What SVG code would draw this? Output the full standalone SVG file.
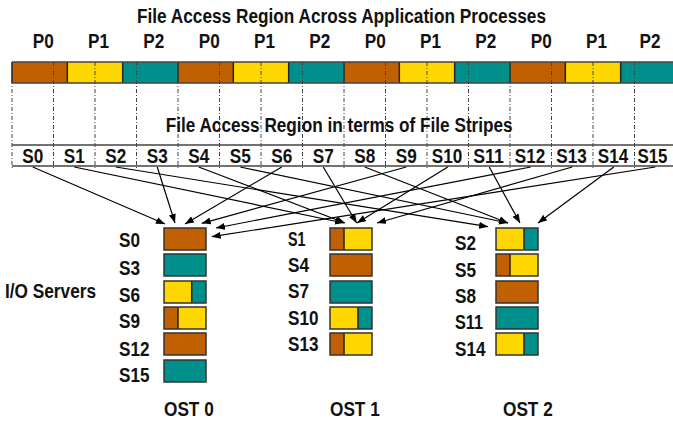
<svg xmlns="http://www.w3.org/2000/svg" width="673" height="426" viewBox="0 0 673 426">
<style>
text{font-family:"Liberation Sans",Arial,sans-serif;font-weight:bold;font-size:20px;fill:#111}
.m{text-anchor:middle}
.o{fill:#C06000}.y{fill:#FFD700}.t{fill:#00908C}
.box{fill:none;stroke:#333;stroke-width:1.5}
.sep{stroke:#222;stroke-width:1.5}
.dash{stroke:#444;stroke-width:1;stroke-dasharray:4,2,1,2;fill:none}
.rowline{stroke:#444;stroke-width:1.6}
.arr{stroke:#000;stroke-width:1.2;fill:none;marker-end:url(#ah)}
</style>
<defs>
<marker id="ah" markerUnits="userSpaceOnUse" markerWidth="9" markerHeight="7" refX="9" refY="3.5" orient="auto">
<path d="M0,0 L9,3.5 L0,7 z" fill="#000"/>
</marker>
</defs>

<g id="title-processes">
<text class="m" x="341.5" y="23" textLength="409" lengthAdjust="spacingAndGlyphs">File Access Region Across Application Processes</text>
</g>

<g id="process-labels">
<text class="m" x="43.2" y="48" textLength="21" lengthAdjust="spacingAndGlyphs">P0</text>
<text class="m" x="98.5" y="48" textLength="21" lengthAdjust="spacingAndGlyphs">P1</text>
<text class="m" x="153.8" y="48" textLength="21" lengthAdjust="spacingAndGlyphs">P2</text>
<text class="m" x="209.2" y="48" textLength="21" lengthAdjust="spacingAndGlyphs">P0</text>
<text class="m" x="264.5" y="48" textLength="21" lengthAdjust="spacingAndGlyphs">P1</text>
<text class="m" x="319.8" y="48" textLength="21" lengthAdjust="spacingAndGlyphs">P2</text>
<text class="m" x="375.2" y="48" textLength="21" lengthAdjust="spacingAndGlyphs">P0</text>
<text class="m" x="430.5" y="48" textLength="21" lengthAdjust="spacingAndGlyphs">P1</text>
<text class="m" x="485.8" y="48" textLength="21" lengthAdjust="spacingAndGlyphs">P2</text>
<text class="m" x="541.2" y="48" textLength="21" lengthAdjust="spacingAndGlyphs">P0</text>
<text class="m" x="596.5" y="48" textLength="21" lengthAdjust="spacingAndGlyphs">P1</text>
<text class="m" x="650" y="48" textLength="21" lengthAdjust="spacingAndGlyphs">P2</text>
</g>

<g id="process-bar">
<rect class="o" x="12" y="62" width="55.33" height="21"/>
<rect class="y" x="67.33" y="62" width="55.33" height="21"/>
<rect class="t" x="122.67" y="62" width="55.33" height="21"/>
<rect class="o" x="178" y="62" width="55.33" height="21"/>
<rect class="y" x="233.33" y="62" width="55.33" height="21"/>
<rect class="t" x="288.67" y="62" width="55.33" height="21"/>
<rect class="o" x="344" y="62" width="55.33" height="21"/>
<rect class="y" x="399.33" y="62" width="55.33" height="21"/>
<rect class="t" x="454.67" y="62" width="55.33" height="21"/>
<rect class="o" x="510" y="62" width="55.33" height="21"/>
<rect class="y" x="565.33" y="62" width="55.33" height="21"/>
<rect class="t" x="620.67" y="62" width="55.33" height="21"/>
<path class="sep" d="M12,62V83 M67.33,62V83 M122.67,62V83 M178,62V83 M233.33,62V83 M288.67,62V83 M344,62V83 M399.33,62V83 M454.67,62V83 M510,62V83 M565.33,62V83 M620.67,62V83"/>
<path class="rowline" d="M12,62H673 M12,83H673"/>
</g>

<g id="stripe-boundaries">
<path class="dash" d="M12,62V169 M53.5,62V169 M95,62V169 M136.5,62V169 M178,62V169 M219.5,62V169 M261,62V169 M302.5,62V169 M344,62V169 M385.5,62V169 M427,62V169 M468.5,62V169 M510,62V169 M551.5,62V169 M593,62V169 M634.5,62V169"/>
</g>

<g id="title-stripes">
<text x="165.7" y="131.5" textLength="347" lengthAdjust="spacingAndGlyphs">File Access Region in terms of File Stripes</text>
</g>

<g id="stripe-row">
<path class="rowline" d="M12,145H673 M12,166H673"/>
<text class="m" x="32.75" y="163" textLength="21" lengthAdjust="spacingAndGlyphs">S0</text>
<text class="m" x="74.25" y="163" textLength="21" lengthAdjust="spacingAndGlyphs">S1</text>
<text class="m" x="115.75" y="163" textLength="21" lengthAdjust="spacingAndGlyphs">S2</text>
<text class="m" x="157.25" y="163" textLength="21" lengthAdjust="spacingAndGlyphs">S3</text>
<text class="m" x="198.75" y="163" textLength="21" lengthAdjust="spacingAndGlyphs">S4</text>
<text class="m" x="240.25" y="163" textLength="21" lengthAdjust="spacingAndGlyphs">S5</text>
<text class="m" x="281.75" y="163" textLength="21" lengthAdjust="spacingAndGlyphs">S6</text>
<text class="m" x="323.25" y="163" textLength="21" lengthAdjust="spacingAndGlyphs">S7</text>
<text class="m" x="364.75" y="163" textLength="21" lengthAdjust="spacingAndGlyphs">S8</text>
<text class="m" x="406.25" y="163" textLength="21" lengthAdjust="spacingAndGlyphs">S9</text>
<text class="m" x="447" y="163" textLength="30.5" lengthAdjust="spacingAndGlyphs">S10</text>
<text class="m" x="488.5" y="163" textLength="30.5" lengthAdjust="spacingAndGlyphs">S11</text>
<text class="m" x="530" y="163" textLength="30.5" lengthAdjust="spacingAndGlyphs">S12</text>
<text class="m" x="571.5" y="163" textLength="30.5" lengthAdjust="spacingAndGlyphs">S13</text>
<text class="m" x="613" y="163" textLength="30.5" lengthAdjust="spacingAndGlyphs">S14</text>
<text class="m" x="652.5" y="163" textLength="30" lengthAdjust="spacingAndGlyphs">S15</text>
</g>

<g id="connectors">
<line class="arr" x1="32.75" y1="167" x2="165" y2="224"/>
<line class="arr" x1="157.25" y1="167" x2="175" y2="223"/>
<line class="arr" x1="281.75" y1="167" x2="185" y2="224"/>
<line class="arr" x1="406.25" y1="167" x2="201.7" y2="223.3"/>
<line class="arr" x1="530.75" y1="167" x2="216" y2="228"/>
<line class="arr" x1="655.25" y1="167" x2="211.7" y2="236.7"/>
<line class="arr" x1="74.25" y1="167" x2="344" y2="223"/>
<line class="arr" x1="198.75" y1="167" x2="345" y2="223"/>
<line class="arr" x1="323.25" y1="167" x2="356.7" y2="223"/>
<line class="arr" x1="447.75" y1="167" x2="357" y2="223"/>
<line class="arr" x1="572.25" y1="167" x2="377" y2="223"/>
<line class="arr" x1="115.75" y1="167" x2="488" y2="226.7"/>
<line class="arr" x1="240.25" y1="167" x2="508" y2="223"/>
<line class="arr" x1="364.75" y1="167" x2="508" y2="223"/>
<line class="arr" x1="489.25" y1="167" x2="520" y2="223"/>
<line class="arr" x1="613.75" y1="167" x2="538" y2="223"/>
</g>

<g id="io-servers-label">
<text x="5" y="298" textLength="91" lengthAdjust="spacingAndGlyphs">I/O Servers</text>
</g>

<g id="ost0">
<text x="119" y="247" textLength="21" lengthAdjust="spacingAndGlyphs">S0</text>
<text x="119" y="275" textLength="21" lengthAdjust="spacingAndGlyphs">S3</text>
<text x="119" y="302" textLength="21" lengthAdjust="spacingAndGlyphs">S6</text>
<text x="119" y="328" textLength="21" lengthAdjust="spacingAndGlyphs">S9</text>
<text x="119" y="356" textLength="30.5" lengthAdjust="spacingAndGlyphs">S12</text>
<text x="119" y="382" textLength="30.5" lengthAdjust="spacingAndGlyphs">S15</text>
<rect class="o" x="164" y="228" width="42" height="22"/>
<rect class="t" x="164" y="254" width="42" height="22"/>
<rect class="y" x="164" y="281" width="27.7" height="22"/><rect class="t" x="191.7" y="281" width="14.3" height="22"/>
<rect class="o" x="164" y="307" width="14" height="22"/><rect class="y" x="178" y="307" width="28" height="22"/>
<rect class="o" x="164" y="333" width="42" height="22"/>
<rect class="t" x="164" y="360" width="42" height="22"/>
<path class="sep" d="M191.7,281V303 M178,307V329"/>
<rect class="box" x="164" y="228" width="42" height="22"/>
<rect class="box" x="164" y="254" width="42" height="22"/>
<rect class="box" x="164" y="281" width="42" height="22"/>
<rect class="box" x="164" y="307" width="42" height="22"/>
<rect class="box" x="164" y="333" width="42" height="22"/>
<rect class="box" x="164" y="360" width="42" height="22"/>
<text x="164" y="416" textLength="49.7" lengthAdjust="spacingAndGlyphs">OST 0</text>
</g>

<g id="ost1">
<text x="288" y="246" textLength="17.5" lengthAdjust="spacingAndGlyphs">S1</text>
<text x="288" y="272" textLength="21" lengthAdjust="spacingAndGlyphs">S4</text>
<text x="288" y="298" textLength="21" lengthAdjust="spacingAndGlyphs">S7</text>
<text x="288" y="325" textLength="30.5" lengthAdjust="spacingAndGlyphs">S10</text>
<text x="288" y="351" textLength="30.5" lengthAdjust="spacingAndGlyphs">S13</text>
<rect class="o" x="330" y="228" width="14" height="22"/><rect class="y" x="344" y="228" width="28" height="22"/>
<rect class="o" x="330" y="254" width="42" height="22"/>
<rect class="t" x="330" y="281" width="42" height="22"/>
<rect class="y" x="330" y="307" width="28" height="22"/><rect class="t" x="358" y="307" width="14" height="22"/>
<rect class="o" x="330" y="333" width="14" height="22"/><rect class="y" x="344" y="333" width="28" height="22"/>
<path class="sep" d="M344,228V250 M358,307V329 M344,333V355"/>
<rect class="box" x="330" y="228" width="42" height="22"/>
<rect class="box" x="330" y="254" width="42" height="22"/>
<rect class="box" x="330" y="281" width="42" height="22"/>
<rect class="box" x="330" y="307" width="42" height="22"/>
<rect class="box" x="330" y="333" width="42" height="22"/>
<text x="330" y="416" textLength="49.7" lengthAdjust="spacingAndGlyphs">OST 1</text>
</g>

<g id="ost2">
<text x="455" y="250" textLength="21" lengthAdjust="spacingAndGlyphs">S2</text>
<text x="455" y="277" textLength="21" lengthAdjust="spacingAndGlyphs">S5</text>
<text x="455" y="303" textLength="21" lengthAdjust="spacingAndGlyphs">S8</text>
<text x="455" y="329" textLength="28" lengthAdjust="spacingAndGlyphs">S11</text>
<text x="455" y="356" textLength="30.5" lengthAdjust="spacingAndGlyphs">S14</text>
<rect class="y" x="496" y="228" width="28" height="22"/><rect class="t" x="524" y="228" width="14" height="22"/>
<rect class="o" x="496" y="254" width="14" height="22"/><rect class="y" x="510" y="254" width="28" height="22"/>
<rect class="o" x="496" y="281" width="42" height="22"/>
<rect class="t" x="496" y="307" width="42" height="22"/>
<rect class="y" x="496" y="333" width="28" height="22"/><rect class="t" x="524" y="333" width="14" height="22"/>
<path class="sep" d="M524,228V250 M510,254V276 M524,333V355"/>
<rect class="box" x="496" y="228" width="42" height="22"/>
<rect class="box" x="496" y="254" width="42" height="22"/>
<rect class="box" x="496" y="281" width="42" height="22"/>
<rect class="box" x="496" y="307" width="42" height="22"/>
<rect class="box" x="496" y="333" width="42" height="22"/>
<text x="503" y="416" textLength="49.7" lengthAdjust="spacingAndGlyphs">OST 2</text>
</g>
</svg>
